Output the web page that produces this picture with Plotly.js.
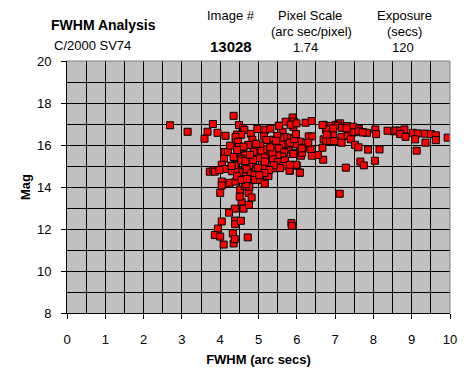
<!DOCTYPE html>
<html>
<head>
<meta charset="utf-8">
<script src="https://cdn.plot.ly/plotly-3.0.1.min.js"></script>
<style>html,body{margin:0;padding:0;background:#fff;}#chart{width:472px;height:384px;}</style>
</head>
<body>
<div id="chart"></div>
<script>
// FWHM (arc secs) and magnitude of each star measured in image 13028
var fwhm = [
  2.69,3.15,3.81,3.67,3.93,3.59,4.14,4.35,4.49,4.59,4.63,4.44,4.55,4.80,4.97,4.84,4.40,4.41,4.74,4.60,
  4.93,4.47,4.12,4.20,4.10,4.54,4.65,4.80,4.98,4.55,4.04,4.12,4.30,4.65,4.86,3.73,3.82,3.86,3.98,4.31,
  4.46,4.58,4.68,4.78,4.91,4.04,4.04,4.25,4.40,4.70,4.95,4.00,4.52,4.74,4.56,4.82,4.38,4.61,4.75,4.23,
  4.04,4.39,4.39,4.54,3.94,3.86,4.00,4.33,4.72,4.09,4.35,4.38,5.86,5.87,7.12,4.64,4.76,4.51,4.69,4.80,
  4.91,5.17,4.67,
  5.18,5.31,5.14,5.20,5.39,5.53,5.63,5.69,5.84,5.93,5.91,5.98,5.71,6.08,5.79,5.95,5.73,5.60,5.57,5.49,
  4.73,4.47,4.48,4.61,4.95,5.05,5.08,4.94,5.04,5.17,5.23,5.31,5.41,5.53,5.67,5.62,5.49,5.38,5.25,5.14,
  4.99,4.76,4.69,4.80,4.90,5.16,5.26,5.39,5.50,5.56,5.69,5.83,6.00,5.82,6.08,4.38,4.30,4.44,4.56,4.70,
  4.91,5.04,5.64,5.36,4.86,4.35,4.55,4.66,5.31,5.46,4.87,4.78,4.44,4.26,5.17,5.95,6.11,5.92,
  5.81,5.98,5.82,5.56,5.40,5.28,5.15,5.02,5.16,
  6.23,6.39,6.70,6.88,7.02,7.13,7.32,7.47,7.62,7.73,7.83,8.05,8.07,8.37,8.54,8.58,8.69,8.81,8.70,8.84,
  9.03,9.16,9.35,9.50,9.63,9.63,9.94,9.09,9.36,9.13,6.82,6.95,6.81,6.70,6.77,6.87,6.97,7.17,7.33,7.43,
  7.50,7.61,7.72,7.17,7.41,7.52,7.61,7.86,8.16,7.66,7.75,8.04,7.28,6.69,6.67,6.55,6.39,6.36,6.24,6.16,
  6.13,5.89,5.82,5.93,5.98,6.31,6.40,6.30,6.76,6.78,7.08,7.18,6.67,6.95,7.30,5.89,5.92,5.54,5.84,5.99,
  6.14,6.13,6.08,5.91
];
var mag = [
  16.94,16.63,17.00,16.63,16.58,16.30,16.44,17.39,16.95,16.80,16.72,16.50,16.49,16.53,16.76,16.25,16.38,16.12,16.01,15.90,
  15.76,15.85,15.66,15.67,15.35,15.57,15.51,15.52,15.41,15.35,15.06,14.86,15.01,15.05,15.04,14.73,14.80,14.73,14.81,14.75,
  14.75,14.70,14.66,14.80,14.76,14.26,14.07,14.20,14.26,14.29,14.33,13.72,13.87,13.72,13.30,13.50,12.97,12.97,13.15,12.78,
  12.36,12.40,12.23,12.39,12.02,11.71,11.64,11.79,11.60,11.26,11.31,11.52,12.28,12.15,13.68,14.05,14.02,13.54,14.30,14.41,
  14.49,14.18,14.13,
  16.73,16.78,16.41,16.24,16.25,16.92,16.63,16.38,16.35,17.09,16.86,16.49,17.11,16.16,15.83,16.03,16.03,16.03,16.35,16.43,
  16.00,16.16,15.90,15.92,15.79,15.98,15.72,16.06,15.37,15.41,15.81,15.68,15.98,15.84,15.65,15.45,15.49,15.32,15.02,15.00,
  14.91,15.05,14.85,14.64,14.58,14.64,14.53,14.89,15.18,14.96,15.26,15.03,15.02,14.78,14.69,15.05,15.00,14.51,14.34,14.38,
  14.34,14.34,15.00,15.65,15.29,15.43,15.26,15.24,15.89,16.20,15.68,15.53,15.76,15.97,15.21,15.60,15.49,16.31,
  14.78,15.06,15.06,14.90,15.03,14.81,14.67,14.56,14.16,
  17.06,17.14,16.96,16.91,16.96,17.03,16.90,16.87,16.77,16.61,16.58,16.74,16.52,16.68,16.65,16.69,16.68,16.74,16.52,16.39,
  16.58,16.55,16.54,16.52,16.46,16.23,16.35,16.27,16.11,15.73,16.68,16.52,16.41,16.27,16.19,16.20,16.19,16.39,16.44,16.57,
  16.61,16.65,16.60,16.11,16.27,16.01,15.89,15.78,15.79,15.21,15.03,15.25,14.92,15.30,15.87,15.52,15.49,15.81,16.08,15.87,
  15.66,15.59,16.11,16.28,16.52,16.41,16.41,16.11,16.74,16.50,16.92,16.82,16.95,16.79,16.79,17.31,17.12,16.91,16.96,17.03,
  15.63,15.84,14.68,15.57
];
var xTicks = [0,1,2,3,4,5,6,7,8,9,10];
var yTicks = [8,10,12,14,16,18,20];

var font = 'Arial, "Liberation Sans", sans-serif';
var trace = {
  type: 'scatter', mode: 'markers', x: fwhm, y: mag,
  marker: {symbol: 'square', size: 7, color: '#ff0000', line: {color: '#000000', width: 1}},
  hoverinfo: 'x+y'
};
function ann(text, x, y, size, bold) {
  return {text: bold ? '<b>' + text + '</b>' : text, x: x, y: y, xref: 'paper', yref: 'paper',
    xanchor: 'center', yanchor: 'middle', showarrow: false,
    font: {family: font, size: size, color: '#000'}};
}
// paper coords: plot area x 67..450, y 61..313 (pixels)
function px(p) { return (p - 67) / 383; }
function py(p) { return (313 - p) / 252; }
var layout = {
  width: 472, height: 384,
  margin: {l: 67, r: 22, t: 61, b: 71, pad: 0},
  paper_bgcolor: '#ffffff', plot_bgcolor: '#c0c0c0',
  showlegend: false,
  font: {family: font, size: 13, color: '#000'},
  xaxis: {
    range: [0, 10], tickvals: xTicks, ticktext: xTicks.map(String),
    ticks: 'outside', ticklen: 5, tickcolor: '#000', tickwidth: 1,
    showgrid: true, gridcolor: '#000', gridwidth: 1,
    minor: {dtick: 0.5, showgrid: true, gridcolor: '#000', gridwidth: 1, ticks: ''},
    showline: true, linecolor: '#000', linewidth: 1, zeroline: false,
    ticklabelstandoff: 9,
    tickfont: {family: font, size: 13, color: '#000'},
    title: {text: '<b>FWHM (arc secs)</b>', font: {family: font, size: 13, color: '#000'}, standoff: 9}
  },
  yaxis: {
    range: [8, 20], tickvals: yTicks, ticktext: yTicks.map(String),
    ticks: 'outside', ticklen: 5, tickcolor: '#000', tickwidth: 1,
    showgrid: true, gridcolor: '#000', gridwidth: 1,
    minor: {dtick: 1, showgrid: true, gridcolor: '#000', gridwidth: 1, ticks: ''},
    showline: true, linecolor: '#000', linewidth: 1, zeroline: false,
    ticklabelstandoff: 7,
    tickfont: {family: font, size: 13, color: '#000'},
    title: {text: '<b>Mag</b>', font: {family: font, size: 13, color: '#000'}, standoff: 3}
  },
  shapes: [
    {type: 'line', xref: 'paper', yref: 'paper', x0: 0, x1: 1, y0: 1, y1: 1, line: {color: '#808080', width: 1}},
    {type: 'line', xref: 'paper', yref: 'paper', x0: 1, x1: 1, y0: 0, y1: 1, line: {color: '#808080', width: 1}}
  ],
  annotations: [
    ann('FWHM Analysis', px(103), py(25), 14, true),
    ann('C/2000 SV74', px(92), py(45), 13, false),
    ann('Image #', px(231), py(16), 13, false),
    ann('13028', px(231), py(46), 15, true),
    ann('Pixel Scale', px(310), py(16), 13, false),
    ann('(arc sec/pixel)', px(311), py(32), 13, false),
    ann('1.74', px(305), py(48), 13, false),
    ann('Exposure', px(404), py(16), 13, false),
    ann('(secs)', px(404), py(32), 13, false),
    ann('120', px(403), py(48), 13, false)
  ]
};
Plotly.newPlot('chart', [trace], layout, {displayModeBar: false, staticPlot: true});
</script>
</body>
</html>
